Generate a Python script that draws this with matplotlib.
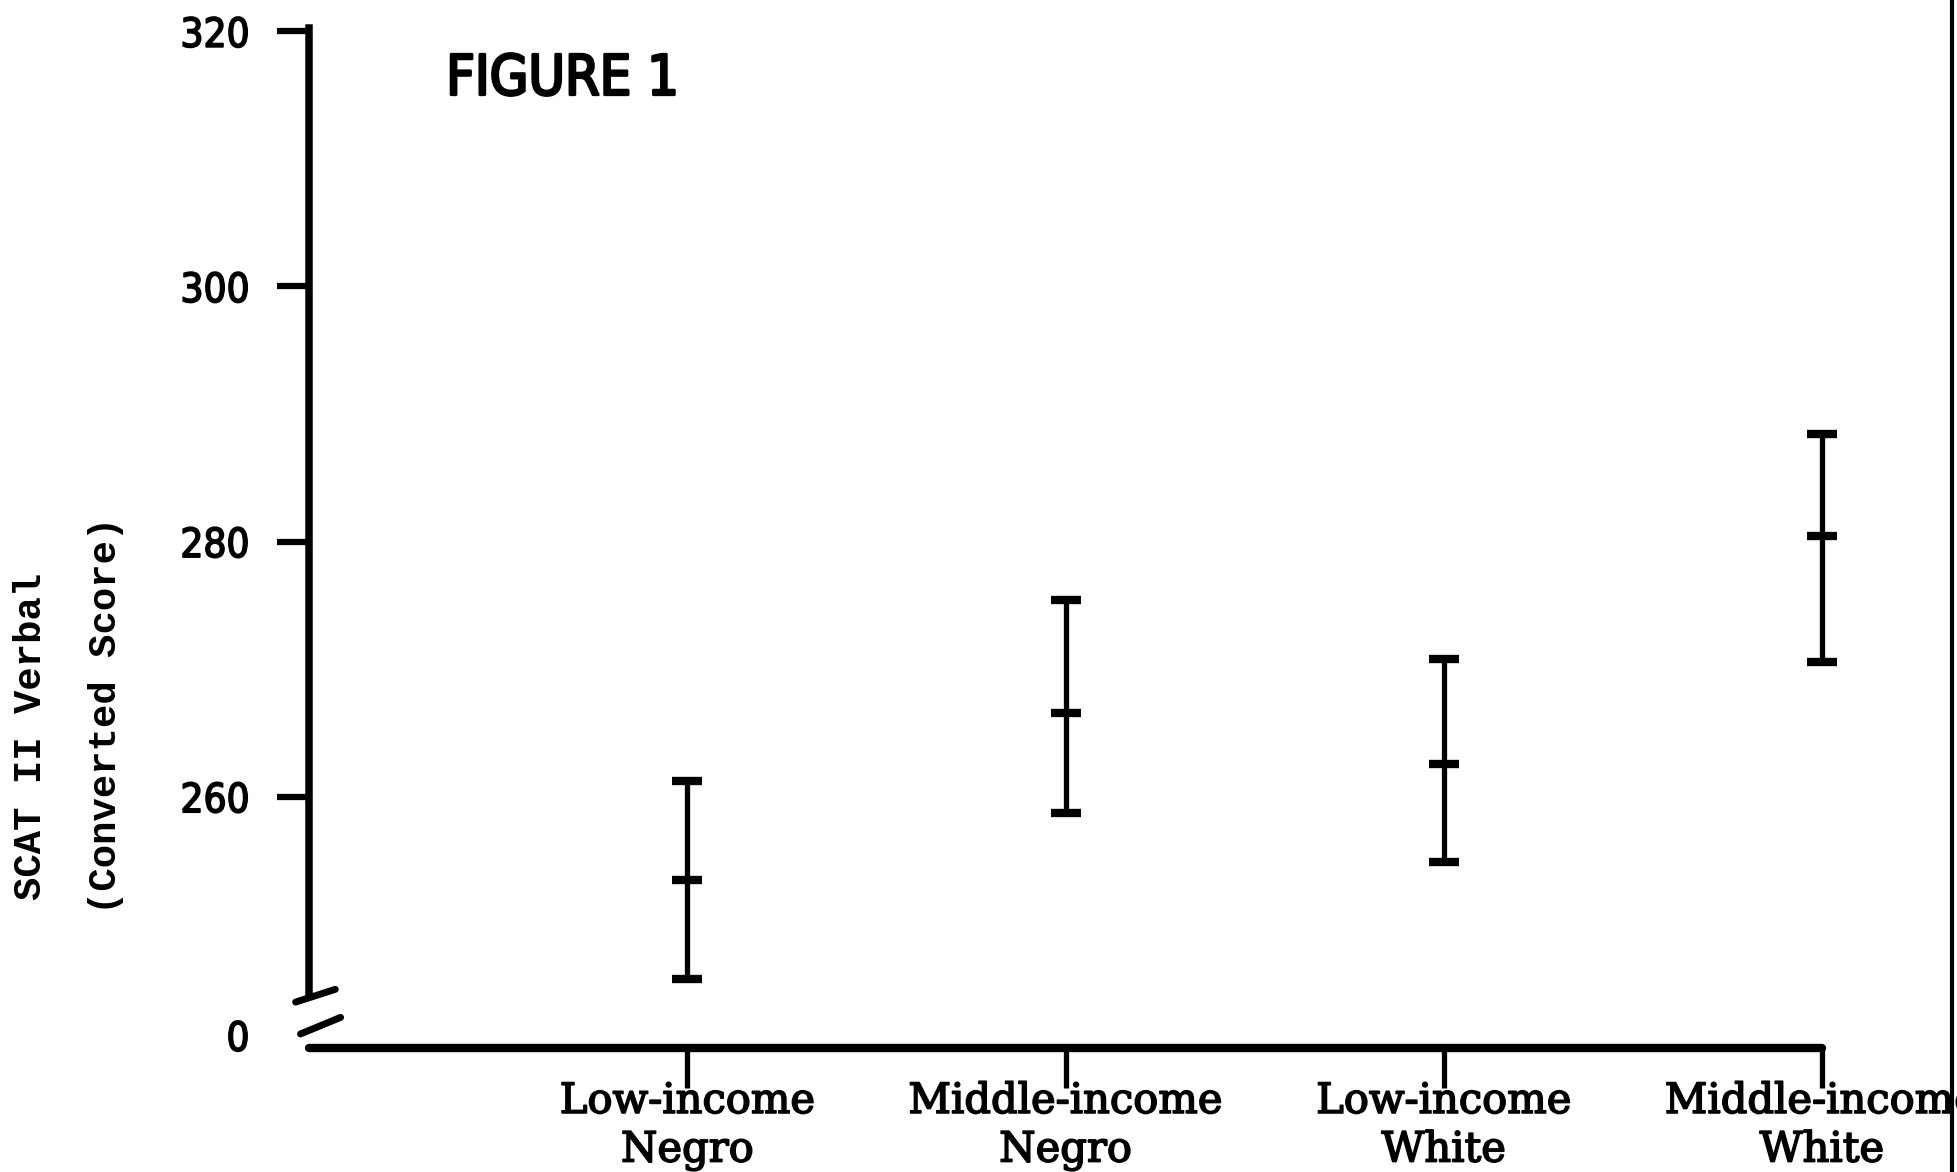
import numpy as np
import matplotlib.pyplot as plt
import matplotlib.patheffects as pe
from matplotlib.lines import Line2D
from matplotlib import font_manager

# values (SCAT II Verbal, converted score)
groups = ["Low-income\nNegro", "Middle-income\nNegro", "Low-income\nWhite", "Middle-income\nWhite"]
means = np.array([253.5, 266.6, 262.6, 280.4])
upper = np.array([261.2, 275.4, 270.8, 288.4])
lower = np.array([245.7, 258.7, 254.9, 270.6])

ytick_vals = [241.3, 260, 280, 300, 320]
ytick_labels = ["0", "260", "280", "300", "320"]

# pick a narrow sans for the numbers / title if one is installed
fonts = font_manager.fontManager.ttflist
if any(f.name == "Liberation Sans Narrow" for f in fonts):
    narrow = dict(family="Liberation Sans Narrow")
    num_size = 32
elif any(f.name == "DejaVu Sans" and f.stretch == "condensed" for f in fonts):
    narrow = dict(family="DejaVu Sans", stretch="condensed")
    num_size = 29
else:
    narrow = dict(family="Liberation Sans")
    num_size = 27

bolder = [pe.withStroke(linewidth=1.2, foreground="black")]

fig = plt.figure(figsize=(19.57, 11.72), dpi=100)
ax = fig.add_axes([0.158, 0.1058, 0.773, 0.8707])

x = np.arange(len(groups))
eb = ax.errorbar(x, means, yerr=[means - lower, upper - means], fmt='_', color='black',
                 markersize=22, mew=6, elinewidth=3.8, capsize=11, capthick=6)
for art in eb.lines[1] + eb.lines[2] + (eb.lines[0],):
    art.set_clip_on(False)

ax.set_xlim(-1, 3)
ax.set_ylim(240.3, 320.3)

for s in ["top", "right"]:
    ax.spines[s].set_visible(False)
ax.spines["left"].set_linewidth(5.4)
ax.spines["left"].set_bounds(244.7, 320.3)
ax.spines["bottom"].set_linewidth(6)
ax.spines["bottom"].set_capstyle("round")

ax.set_yticks(ytick_vals)
ax.set_yticklabels(ytick_labels, fontsize=num_size, **narrow)
for t in ax.get_yticklabels():
    t.set_path_effects(bolder)
ax.tick_params(axis="y", direction="out", length=23, width=4.5, pad=20)
ax.yaxis.get_major_ticks()[0].tick1line.set_visible(False)

ax.set_xticks(x)
ax.set_xticklabels(groups, family="DejaVu Serif", fontsize=30, linespacing=1.2)
for t in ax.get_xticklabels():
    t.set_path_effects(bolder)
ax.tick_params(axis="x", direction="out", length=29, width=3.8, pad=-6)

# axis break mark near the bottom of the y axis
ax.plot([-1.036, -0.931], [243.9, 244.9], color="black", lw=5, clip_on=False, solid_capstyle="round")
ax.plot([-1.023, -0.917], [241.4, 242.7], color="black", lw=5, clip_on=False, solid_capstyle="round")

fig.text(0.228, 0.955, "FIGURE 1", fontsize=40, va="top", ha="left",
         path_effects=[pe.withStroke(linewidth=2, foreground="black")], **narrow)

fig.text(0.016, 0.372, "SCAT II Verbal", family="Liberation Mono", weight="bold",
         fontsize=28, rotation=90, ha="center", va="center")
fig.text(0.054, 0.390, "(Converted Score)", family="Liberation Mono", weight="bold",
         fontsize=28, rotation=90, ha="center", va="center")

# dark edge of the scanned page on the right
fig.add_artist(Line2D([0.9975, 0.9975], [0, 1], color="black", lw=3, transform=fig.transFigure))

fig.savefig("out.png", dpi=100)
